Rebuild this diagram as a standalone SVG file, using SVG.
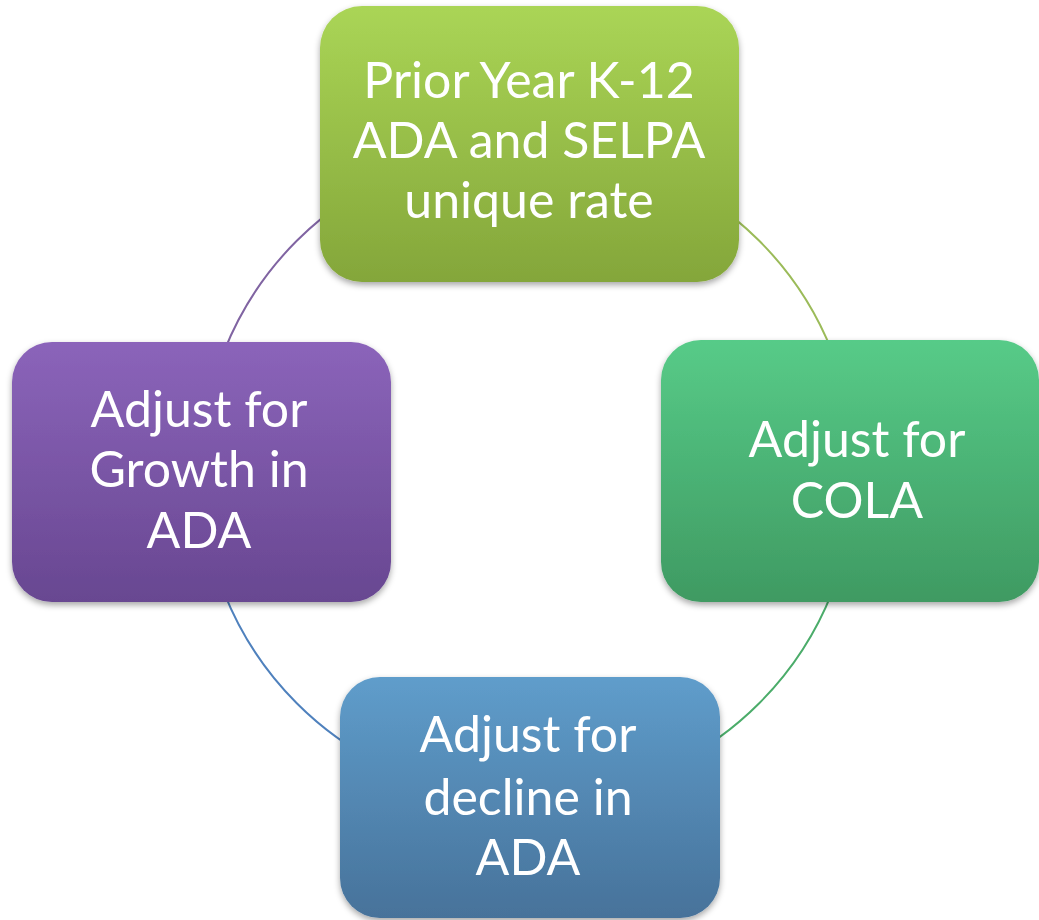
<svg xmlns="http://www.w3.org/2000/svg" width="1039" height="920" viewBox="0 0 1039 920">
<defs>
<linearGradient id="gTop" x1="0" y1="0" x2="0" y2="1"><stop offset="0" stop-color="#aad556"/><stop offset="1" stop-color="#84a63a"/></linearGradient>
<linearGradient id="gRight" x1="0" y1="0" x2="0" y2="1"><stop offset="0" stop-color="#57cb88"/><stop offset="1" stop-color="#3f9a62"/></linearGradient>
<linearGradient id="gBottom" x1="0" y1="0" x2="0" y2="1"><stop offset="0" stop-color="#5f9dcb"/><stop offset="1" stop-color="#47729a"/></linearGradient>
<linearGradient id="gLeft" x1="0" y1="0" x2="0" y2="1"><stop offset="0" stop-color="#8b64ba"/><stop offset="1" stop-color="#684791"/></linearGradient>
<filter id="sh" x="-10%" y="-10%" width="120%" height="125%"><feDropShadow dx="0" dy="3" stdDeviation="3" flood-color="#000" flood-opacity="0.35"/></filter>
</defs>
<style>
.conn{fill:none;stroke-width:2}
.box{filter:url(#sh)}
.lbl{font-family:Lato,"Liberation Sans",sans-serif;font-size:50px;fill:#ffffff;text-anchor:middle}
</style>
<rect width="1039" height="920" fill="#ffffff"/>
<g id="connectors">
<path class="conn" stroke="#9bbb59" d="M528 145 A327 327 0 0 1 855 472"/>
<path class="conn" stroke="#4bac6a" d="M855 472 A327 327 0 0 1 528 799"/>
<path class="conn" stroke="#4f81bd" d="M528 799 A327 327 0 0 1 201 472"/>
<path class="conn" stroke="#8064a2" d="M201 472 A327 327 0 0 1 528 145"/>
</g>
<g id="node-top">
<rect class="box" x="320" y="6" width="419" height="276" rx="42" fill="url(#gTop)"/>
<text class="lbl" x="529" y="98">Prior Year K-12</text>
<text class="lbl" x="529" y="158">ADA and SELPA</text>
<text class="lbl" x="529" y="218">unique rate</text>
</g>
<g id="node-right">
<rect class="box" x="661" y="340" width="378" height="262" rx="40" fill="url(#gRight)"/>
<text class="lbl" x="857" y="457">Adjust for</text>
<text class="lbl" x="857" y="518">COLA</text>
</g>
<g id="node-bottom">
<rect class="box" x="340" y="677" width="380" height="241" rx="40" fill="url(#gBottom)"/>
<text class="lbl" x="528" y="752">Adjust for</text>
<text class="lbl" x="528" y="815">decline in</text>
<text class="lbl" x="528" y="875">ADA</text>
</g>
<g id="node-left">
<rect class="box" x="12" y="342" width="379" height="260" rx="40" fill="url(#gLeft)"/>
<text class="lbl" x="199" y="427">Adjust for</text>
<text class="lbl" x="199" y="487">Growth in</text>
<text class="lbl" x="199" y="548">ADA</text>
</g>
</svg>
